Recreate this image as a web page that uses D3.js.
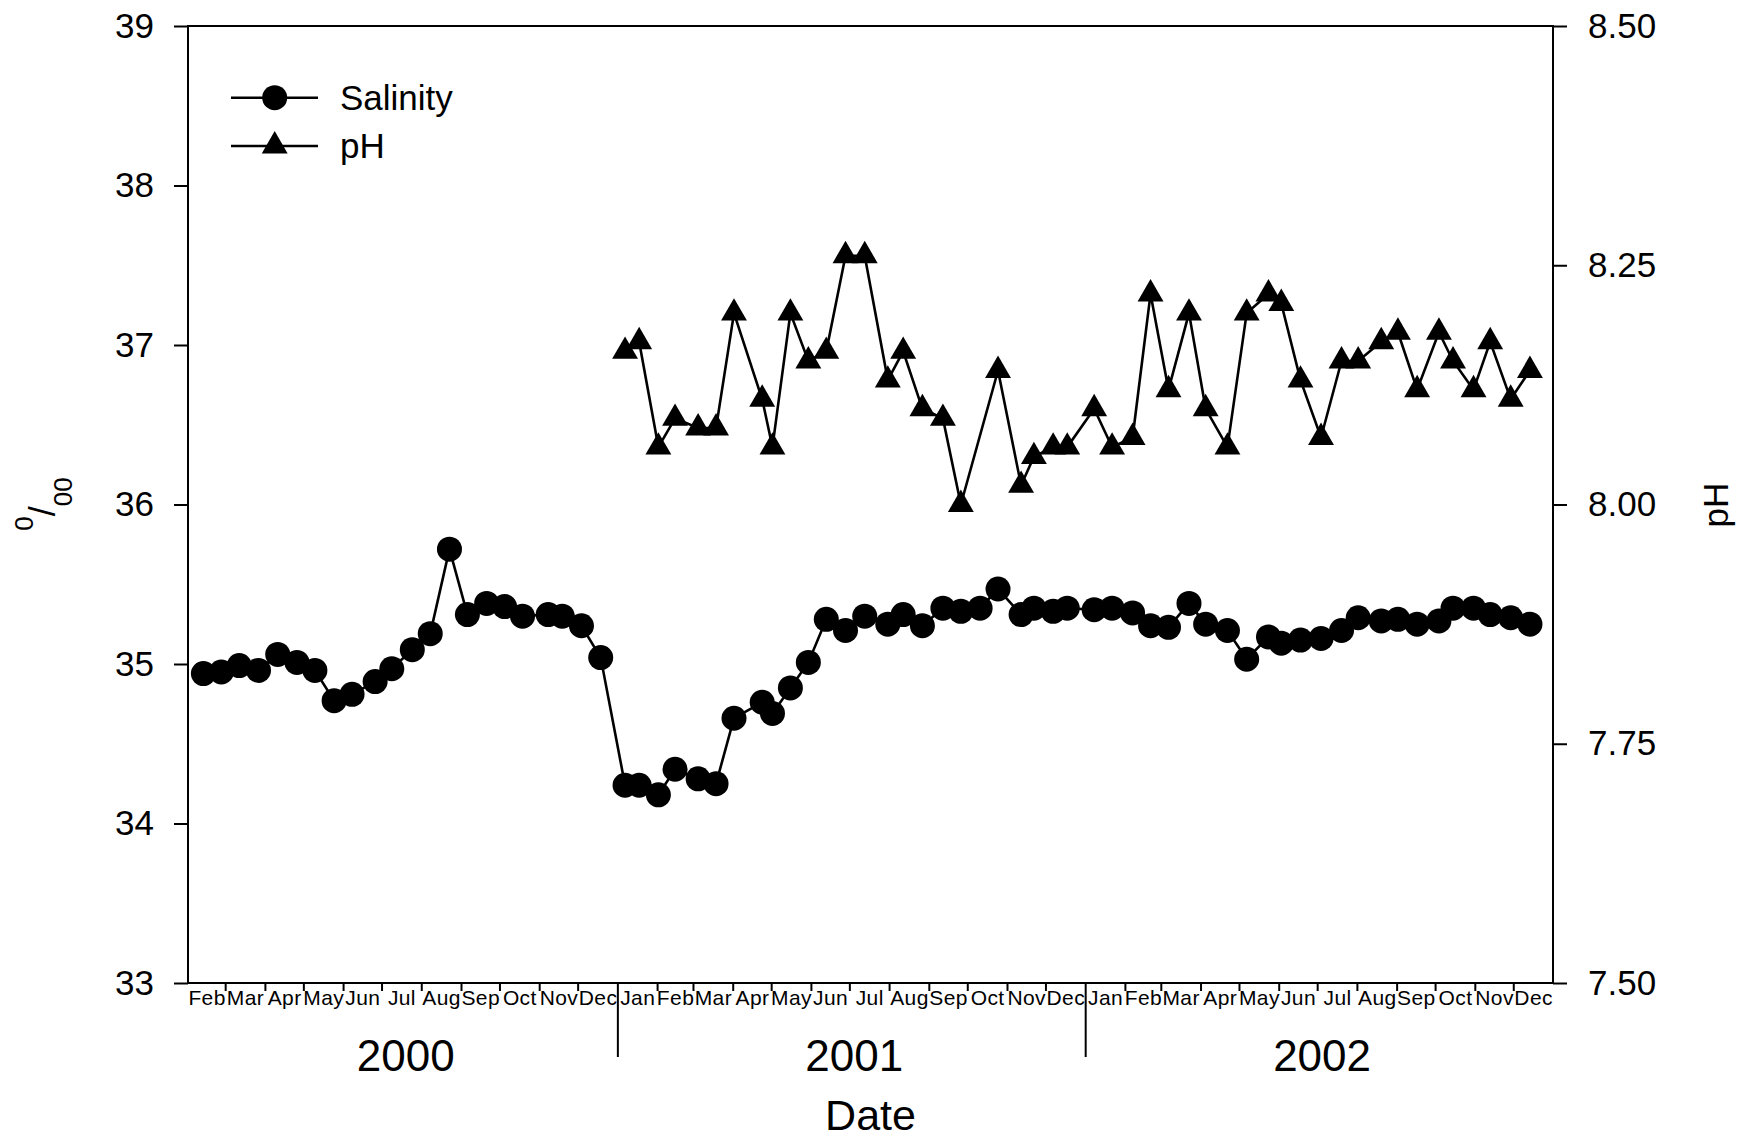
<!DOCTYPE html>
<html>
<head>
<meta charset="utf-8">
<script src="https://cdn.jsdelivr.net/npm/d3@7"></script>
<style>
  html, body { margin: 0; padding: 0; background: #fff; }
  svg { display: block; font-family: "Liberation Sans", Arial, Helvetica, sans-serif; }
</style>
</head>
<body>
<svg id="chart" width="1742" height="1139"></svg>
<script>
// Sampling dates (roughly fortnightly)
const sampleDates = [
  "2000-02-13","2000-02-27","2000-03-12","2000-03-27","2000-04-11","2000-04-26","2000-05-10","2000-05-25",
  "2000-06-08","2000-06-26","2000-07-09","2000-07-25","2000-08-08","2000-08-23","2000-09-06","2000-09-21",
  "2000-10-05","2000-10-19","2000-11-08","2000-11-19","2000-12-04","2000-12-19",
  "2001-01-07","2001-01-18","2001-02-02","2001-02-15","2001-03-05","2001-03-19","2001-04-02","2001-04-24",
  "2001-05-02","2001-05-16","2001-05-30","2001-06-13","2001-06-28","2001-07-13","2001-07-31","2001-08-12",
  "2001-08-27","2001-09-12","2001-09-26","2001-10-11","2001-10-25","2001-11-12","2001-11-22","2001-12-07",
  "2001-12-18",
  "2002-01-08","2002-01-22","2002-02-07","2002-02-21","2002-03-07","2002-03-23","2002-04-05","2002-04-22",
  "2002-05-07","2002-05-24","2002-06-03","2002-06-18","2002-07-04","2002-07-20","2002-08-02","2002-08-20",
  "2002-09-02","2002-09-17","2002-10-04","2002-10-15","2002-10-31","2002-11-13","2002-11-29","2002-12-14"
];

// Salinity (per mille)
const salinity = [
  34.94, 34.95, 34.99, 34.96, 35.06, 35.01, 34.96, 34.77, 34.81, 34.89, 34.97, 35.09, 35.19, 35.72, 35.31, 35.38,
  35.36, 35.30, 35.31, 35.30, 35.24, 35.04,
  34.24, 34.24, 34.18, 34.34, 34.28, 34.25, 34.66, 34.76, 34.69, 34.85, 35.01, 35.28, 35.21, 35.30, 35.25, 35.31,
  35.24, 35.35, 35.33, 35.35, 35.47, 35.31, 35.35, 35.33, 35.35,
  35.34, 35.35, 35.32, 35.24, 35.23, 35.38, 35.25, 35.21, 35.03, 35.17, 35.13, 35.15, 35.16, 35.21, 35.29, 35.27,
  35.28, 35.25, 35.27, 35.35, 35.35, 35.31, 35.29, 35.25
];

// pH (not measured during 2000 nor on 2001-10-11)
const pH = [
  null, null, null, null, null, null, null, null, null, null, null, null, null, null, null, null,
  null, null, null, null, null, null,
  8.16, 8.17, 8.06, 8.09, 8.08, 8.08, 8.20, 8.11, 8.06, 8.20, 8.15, 8.16, 8.26, 8.26, 8.13, 8.16,
  8.10, 8.09, 8.00, null, 8.14, 8.02, 8.05, 8.06, 8.06,
  8.10, 8.06, 8.07, 8.22, 8.12, 8.20, 8.10, 8.06, 8.20, 8.22, 8.21, 8.13, 8.07, 8.15, 8.15, 8.17,
  8.18, 8.12, 8.18, 8.15, 8.12, 8.17, 8.11, 8.14
];

const salinityTicks = [33, 34, 35, 36, 37, 38, 39];
const pHTicks = [7.50, 7.75, 8.00, 8.25, 8.50];
const yearLabels = ["2000", "2001", "2002"];
const seriesNames = ["Salinity", "pH"];
const xTitle = "Date";
const rightTitle = "pH";

// ---- layout ----
const plot = { left: 188, right: 1553, top: 26, bottom: 983 };
const svg = d3.select("#chart");
svg.append("rect").attr("width", 1742).attr("height", 1139).attr("fill", "#fff");

const parse = d3.timeParse("%Y-%m-%d");
const dates = sampleDates.map(parse);

const x = d3.scaleTime()
  .domain([d3.timeMonth.floor(dates[0]), d3.timeYear.ceil(dates[dates.length - 1])])
  .range([plot.left, plot.right]);
const yS = d3.scaleLinear().domain([33, 39]).range([plot.bottom, plot.top]);
const yP = d3.scaleLinear().domain([7.5, 8.5]).range([plot.bottom, plot.top]);

const styleAxis = g => {
  g.select(".domain").remove();
  g.selectAll(".tick line").attr("stroke", "#000").attr("stroke-width", 2);
  g.selectAll(".tick text").attr("fill", "#000");
};

// left axis (salinity)
svg.append("g")
  .attr("transform", `translate(${plot.left},0)`)
  .call(d3.axisLeft(yS).tickValues(salinityTicks).tickFormat(d3.format("d")).tickSize(14).tickPadding(20))
  .call(styleAxis)
  .call(g => g.selectAll(".tick text").attr("font-size", 35));

// right axis (pH)
svg.append("g")
  .attr("transform", `translate(${plot.right},0)`)
  .call(d3.axisRight(yP).tickValues(pHTicks).tickFormat(d3.format(".2f")).tickSize(14).tickPadding(21))
  .call(styleAxis)
  .call(g => g.selectAll(".tick text").attr("font-size", 35));

// month boundaries
const [d0, d1] = x.domain();
const months = d3.timeMonth.range(d0, d1);
const monthTicks = months.filter(m => +m !== +d0 && m.getMonth() !== 0);
const yearStarts = months.filter(m => +m !== +d0 && m.getMonth() === 0);
const monthMids = months.map(m => new Date((+m + +d3.timeMonth.offset(m, 1)) / 2));

svg.append("g")
  .attr("transform", `translate(0,${plot.bottom})`)
  .call(d3.axisBottom(x).tickValues(monthTicks).tickSize(8).tickFormat(""))
  .call(styleAxis);

svg.append("g")
  .attr("transform", `translate(0,${plot.bottom})`)
  .call(d3.axisBottom(x).tickValues(yearStarts).tickSize(74).tickFormat(""))
  .call(styleAxis);

svg.append("g")
  .attr("transform", `translate(0,${plot.bottom})`)
  .call(d3.axisBottom(x).tickValues(monthMids).tickSize(0).tickPadding(7).tickFormat(d3.timeFormat("%b")))
  .call(styleAxis)
  .call(g => g.selectAll(".tick text").attr("font-size", 21).attr("letter-spacing", 0.4));

// year labels centred on each year's span
const years = d3.timeYear.range(d3.timeYear.floor(d0), d1);
svg.append("g").selectAll("text")
  .data(years)
  .join("text")
  .attr("x", d => {
    const a = Math.max(+d, +d0), b = Math.min(+d3.timeYear.offset(d, 1), +d1);
    return x(new Date((a + b) / 2)) + 3;
  })
  .attr("y", 1071)
  .attr("text-anchor", "middle")
  .attr("font-size", 44)
  .text((d, i) => yearLabels[i]);

// frame
svg.append("rect")
  .attr("x", plot.left).attr("y", plot.top)
  .attr("width", plot.right - plot.left).attr("height", plot.bottom - plot.top)
  .attr("fill", "none").attr("stroke", "#000").attr("stroke-width", 2);

// axis titles
svg.append("text")
  .attr("x", (plot.left + plot.right) / 2).attr("y", 1130)
  .attr("text-anchor", "middle").attr("font-size", 43)
  .text(xTitle);

const permil = svg.append("text")
  .attr("transform", "translate(55,504) rotate(-90)")
  .attr("text-anchor", "middle").attr("font-size", 36);
permil.append("tspan").attr("font-size", 26).attr("dy", -22).text("0");
permil.append("tspan").attr("dy", 22).text("/");
permil.append("tspan").attr("font-size", 26).attr("dy", 17).text("00");

svg.append("text")
  .attr("transform", "translate(1728,505) rotate(-90)")
  .attr("text-anchor", "middle").attr("font-size", 35)
  .text(rightTitle);

// series
const salData = dates.map((d, i) => ({ date: d, v: salinity[i] }));
const phData = dates.map((d, i) => ({ date: d, v: pH[i] })).filter(d => d.v != null);

const salLine = d3.line().x(d => x(d.date)).y(d => yS(d.v));
const phLine = d3.line().x(d => x(d.date)).y(d => yP(d.v));

svg.append("path").datum(salData)
  .attr("d", salLine).attr("fill", "none").attr("stroke", "#000").attr("stroke-width", 2.6);
svg.append("path").datum(phData)
  .attr("d", phLine).attr("fill", "none").attr("stroke", "#000").attr("stroke-width", 2.6);

const tri = d3.symbol(d3.symbolTriangle, 290);

svg.append("g").selectAll("circle")
  .data(salData).join("circle")
  .attr("cx", d => x(d.date)).attr("cy", d => yS(d.v)).attr("r", 12.5).attr("fill", "#000");

svg.append("g").selectAll("path")
  .data(phData).join("path")
  .attr("transform", d => `translate(${x(d.date)},${yP(d.v)})`)
  .attr("d", tri).attr("fill", "#000");

// legend
const legend = svg.append("g");
const legendRows = [97.7, 146];
seriesNames.forEach((name, i) => {
  const ly = legendRows[i];
  legend.append("line").attr("x1", 231).attr("x2", 318).attr("y1", ly).attr("y2", ly)
    .attr("stroke", "#000").attr("stroke-width", 2.6);
  if (i === 0) {
    legend.append("circle").attr("cx", 274.7).attr("cy", ly).attr("r", 12.5).attr("fill", "#000");
  } else {
    legend.append("path").attr("transform", `translate(274.7,${ly})`).attr("d", tri).attr("fill", "#000");
  }
  legend.append("text").attr("x", 340).attr("y", ly).attr("dy", "0.35em")
    .attr("font-size", 35).text(name);
});
</script>
</body>
</html>
